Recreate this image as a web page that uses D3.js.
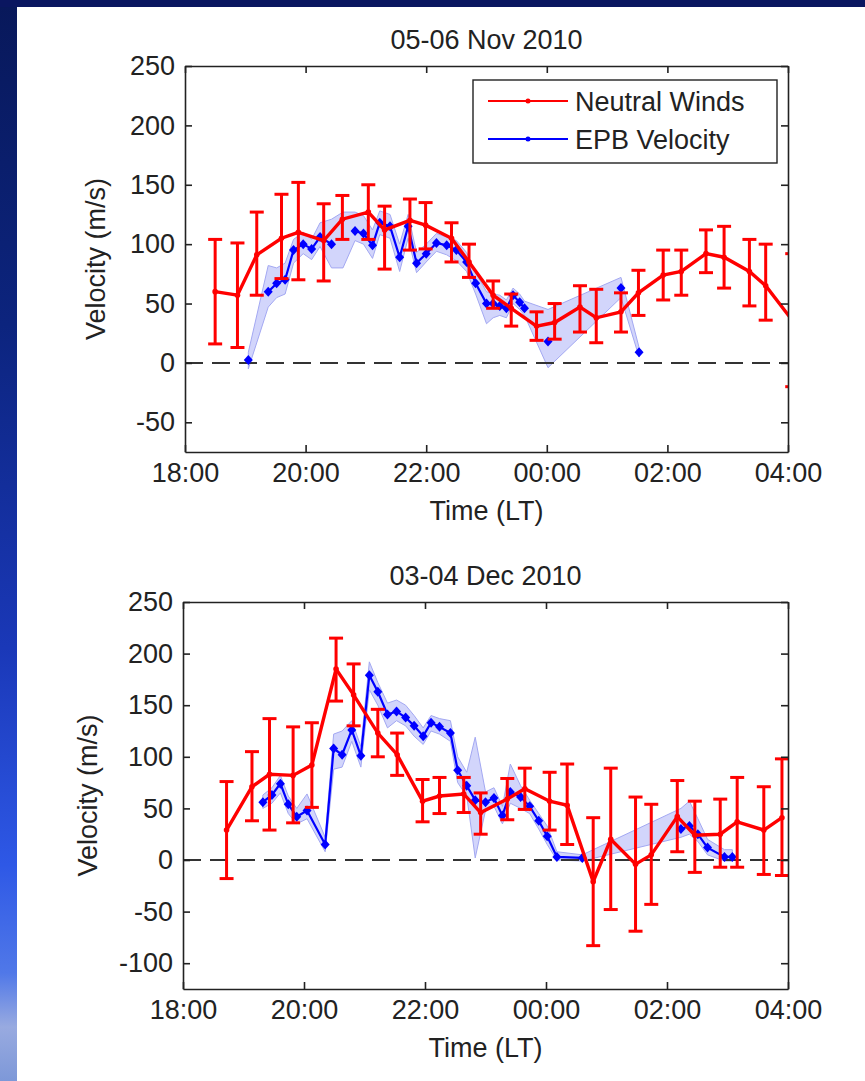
<!DOCTYPE html>
<html>
<head>
<meta charset="utf-8">
<script src="https://cdn.jsdelivr.net/npm/d3@7"></script>
<style>
  body { margin: 0; background: #fff; }
  svg { display: block; }
  text { font-family: "Liberation Sans", Arial, sans-serif; fill: #222; }
</style>
</head>
<body>
<svg width="865" height="1081"></svg>
<script>
// ---- data (hours after midnight of first day, 24 = 00:00 next day) ----
const xTickHours = [18, 20, 22, 24, 26, 28];
const xTickLabels = ['18:00', '20:00', '22:00', '00:00', '02:00', '04:00'];
const novYTicks = [-50, 0, 50, 100, 150, 200, 250];
const decYTicks = [-100, -50, 0, 50, 100, 150, 200, 250];
const seriesNames = ['Neutral Winds', 'EPB Velocity'];

// 05-06 Nov 2010, neutral winds (value, lower and upper ends of error bar)
const novNwTime = [18.50, 18.87, 19.19, 19.60, 19.88, 20.30, 20.61, 21.04, 21.31, 21.73, 21.99, 22.42, 22.71, 23.11,
  23.41, 23.83, 24.13, 24.55, 24.82, 25.23, 25.52, 25.93, 26.23, 26.64, 26.94, 27.36, 27.63, 28.07];
const novNwVel = [60, 57, 91, 105, 110, 103, 121, 127, 112, 120, 116, 105, 85, 57,
  46, 31, 34, 47, 38, 43, 59, 74, 77, 92, 89, 77, 65, 36];
const novNwLo = [16, 13, 57, 71, 70, 69, 104, 104, 79, 95, 96, 85, 72, 46,
  31, 19, 20, 26, 17, 26, 40, 53, 57, 76, 63, 48, 36, -20];
const novNwHi = [104, 101, 127, 142, 152, 134, 141, 150, 132, 138, 135, 118, 100, 69,
  58, 43, 50, 65, 62, 59, 78, 95, 95, 112, 115, 104, 100, 92];

// 05-06 Nov 2010, EPB velocity with band (null time = break in the line)
const novEpbTime = [19.05, null, 19.38, 19.52, 19.66, 19.80, 19.96, 20.10, 20.24, 20.43, 20.62, 20.82, 20.96, 21.11,
  21.23, 21.40, 21.56, 21.70, 21.84, 22.00, 22.17, 22.34, 22.50, 22.67, 22.82, 23.00, 23.11, 23.22,
  23.33, 23.44, 23.55, 23.63, null, 24.02, null, 25.23, null, 25.53];
const novEpbVel = [2.5, null, 60, 67, 70, 95, 100, 96, 106, 100, null, 111, 109, 99,
  118, 115, 89, 115, 84, 92, 101, 99, 95, 85, 67, 50, 50, 48,
  46, 57, 51, 46, null, 18, null, 63, null, 9];
const novEpbLo = [-5, null, 47, 55, 58, 84, 92, 87, 98, 80, 80, 103, 100, 88,
  108, 105, 77, 105, 76, 85, 94, 91, 86, 77, 58, 33, 38, 40,
  38, 50, 45, 40, null, -4, null, 55, null, 5];
const novEpbHi = [9, null, 82, 80, 84, 104, 110, 104, 118, 121, 127, 127, 124, 112,
  128, 125, 100, 125, 93, 100, 109, 106, 103, 93, 76, 60, 58, 57,
  53, 63, 58, 52, null, 45, null, 72, null, 13];

// 03-04 Dec 2010, neutral winds
const decNwTime = [18.72, 19.14, 19.43, 19.82, 20.13, 20.53, 20.82, 21.22, 21.54, 21.96, 22.24, 22.64, 22.92, 23.36,
  23.65, 24.06, 24.35, 24.78, 25.07, 25.48, 25.74, 26.17, 26.46, 26.88, 27.16, 27.60, 27.90];
const decNwVel = [29, 71, 83, 82, 92, 185, 160, 123, 102, 57, 62, 64, 46, 59,
  69, 57, 53, -21, 20, -4, 5, 42, 24, 25, 37, 29, 41];
const decNwLo = [-18, 38, 29, 36, 51, 154, 130, 100, 82, 37, 45, 46, 25, 39,
  49, 29, 15, -83, -48, -69, -43, 8, -12, -7, -7, -14, -15];
const decNwHi = [76, 105, 137, 129, 133, 215, 190, 146, 123, 78, 80, 80, 65, 79,
  89, 85, 93, 41, 89, 61, 54, 77, 57, 59, 80, 71, 98];

// 03-04 Dec 2010, EPB velocity with band
const decEpbTime = [19.32, 19.47, 19.61, 19.74, 19.88, 20.05, 20.35, 20.49, 20.63, 20.79, 20.94, 21.08, 21.22, 21.38,
  21.53, 21.68, 21.82, 21.97, 22.10, 22.24, 22.42, 22.54, 22.69, 22.83, 23.00, 23.14, 23.28, 23.41,
  23.58, 23.73, 23.88, 24.02, 24.18, 24.60, null, 26.23, 26.37, 26.51, 26.67, 26.95, 27.08];
const decEpbVel = [56, 63, 74, 54, 42, 48, 15, 108, 102, 126, 101, 179, 163, 141,
  144, 138, 130, 120, 133, 129, 123, 87, 72, 58, 56, 60, 43, 66,
  61, 52, 38, 23, 3, 2, null, 30, 33, 25, 12, 3, 3];
const decEpbLo = [50, 55, 65, 45, 35, 40, 8, 88, 90, 115, 90, 165, 150, 128,
  135, 130, 120, 112, 125, 122, 115, 75, 62, 2, 48, 52, 35, 55,
  50, 45, 30, 15, 0, -1, null, 22, 25, 18, 5, -1, -1];
const decEpbHi = [63, 70, 82, 62, 50, 64, 22, 122, 125, 135, 110, 192, 172, 152,
  155, 150, 140, 128, 140, 137, 135, 100, 85, 119, 66, 70, 52, 93,
  72, 58, 45, 33, 8, 5, null, 50, 57, 40, 20, 10, 10];

// ---- drawing ----
const svg = d3.select('svg');
const W = 865, H = 1081;

// slide background: navy frame on the left and top
const defs = svg.append('defs');
const grad = defs.append('linearGradient').attr('id', 'bg').attr('x1', 0).attr('y1', 0).attr('x2', 0).attr('y2', 1);
[[0, '#08185a'], [0.3, '#0c247e'], [0.6, '#1a38b8'], [0.8, '#2e58e6'], [0.9, '#5078e8'], [0.95, '#98aae0'], [1, '#7d98d8']]
  .forEach(([o, c]) => grad.append('stop').attr('offset', o).attr('stop-color', c));
svg.append('rect').attr('width', W).attr('height', H).attr('fill', 'url(#bg)');
svg.append('rect').attr('width', W).attr('height', 7).attr('fill', '#0a1660');
svg.append('rect').attr('x', 17).attr('y', 7).attr('width', W - 17).attr('height', H - 7).attr('fill', '#fff');

const diamond = 'M0,-5L4.5,0L0,5L-4.5,0Z';

function zip(t, v, lo, hi) {
  return t.map((d, i) => ({ t: d, v: v[i], lo: lo[i], hi: hi[i] }));
}

function drawPanel(p) {
  const x = d3.scaleLinear().domain([18, 28]).range([p.x0, p.x1]);
  const y = d3.scaleLinear().domain(p.yDomain).range([p.y1, p.y0]);
  const g = svg.append('g');

  const clipId = 'clip' + p.id;
  defs.append('clipPath').attr('id', clipId).append('rect')
    .attr('x', p.x0).attr('y', p.y0).attr('width', p.x1 - p.x0).attr('height', p.y1 - p.y0);
  const plot = g.append('g').attr('clip-path', `url(#${clipId})`);

  const epb = zip(p.epbTime, p.epbVel, p.epbLo, p.epbHi);
  const nw = zip(p.nwTime, p.nwVel, p.nwLo, p.nwHi);

  // EPB uncertainty band
  const bandData = epb.filter(d => d.t != null && d.lo != null);
  plot.append('path')
    .datum(bandData)
    .attr('d', d3.area().x(d => x(d.t)).y0(d => y(d.lo)).y1(d => y(d.hi)))
    .attr('fill', '#d2d5fb')
    .attr('stroke', '#a3a8f2')
    .attr('stroke-width', 1);

  // zero line
  plot.append('line')
    .attr('x1', p.x0).attr('x2', p.x1).attr('y1', y(0)).attr('y2', y(0))
    .attr('stroke', '#333').attr('stroke-width', 2).attr('stroke-dasharray', '18,9');

  // EPB line and markers
  plot.append('path')
    .datum(epb)
    .attr('d', d3.line().defined(d => d.t != null && d.v != null).x(d => x(d.t)).y(d => y(d.v)))
    .attr('fill', 'none').attr('stroke', '#0000ff').attr('stroke-width', 2.2);
  plot.selectAll('.epbm')
    .data(epb.filter(d => d.t != null && d.v != null))
    .enter().append('path')
    .attr('d', diamond)
    .attr('transform', d => `translate(${x(d.t)},${y(d.v)})`)
    .attr('fill', '#0000ff');

  // neutral winds error bars, line and markers
  const bars = plot.selectAll('.bar').data(nw).enter().append('g')
    .attr('stroke', '#ff0000').attr('stroke-width', 3);
  bars.append('line').attr('x1', d => x(d.t)).attr('x2', d => x(d.t))
    .attr('y1', d => y(d.lo)).attr('y2', d => y(d.hi));
  bars.append('line').attr('x1', d => x(d.t) - 7).attr('x2', d => x(d.t) + 7)
    .attr('y1', d => y(d.lo)).attr('y2', d => y(d.lo));
  bars.append('line').attr('x1', d => x(d.t) - 7).attr('x2', d => x(d.t) + 7)
    .attr('y1', d => y(d.hi)).attr('y2', d => y(d.hi));
  plot.append('path')
    .datum(nw)
    .attr('d', d3.line().x(d => x(d.t)).y(d => y(d.v)))
    .attr('fill', 'none').attr('stroke', '#ff0000').attr('stroke-width', 3.4);
  plot.selectAll('.nwm').data(nw).enter().append('circle')
    .attr('cx', d => x(d.t)).attr('cy', d => y(d.v)).attr('r', 2.8)
    .attr('fill', '#ff0000');

  // axes, ticks pointing inward on all four sides; plain hyphen for negatives
  const fs = '27px';
  const left = g.append('g').attr('transform', `translate(${p.x0},0)`)
    .call(d3.axisLeft(y).tickValues(p.yTicks).tickFormat(d => String(d))
      .tickSizeInner(-7).tickSizeOuter(0).tickPadding(10));
  const bottom = g.append('g').attr('transform', `translate(0,${p.y1})`)
    .call(d3.axisBottom(x).tickValues(xTickHours).tickFormat((d, i) => xTickLabels[i])
      .tickSizeInner(-7).tickSizeOuter(0).tickPadding(10));
  const right = g.append('g').attr('transform', `translate(${p.x1},0)`)
    .call(d3.axisRight(y).tickValues(p.yTicks).tickSizeInner(-7).tickSizeOuter(0).tickFormat(''));
  const top = g.append('g').attr('transform', `translate(0,${p.y0})`)
    .call(d3.axisTop(x).tickValues(xTickHours).tickSizeInner(-7).tickSizeOuter(0).tickFormat(''));
  [left, bottom, right, top].forEach(a => {
    a.selectAll('path, line').attr('stroke', '#222').attr('stroke-width', 1.6);
    a.selectAll('text').style('font-size', fs).attr('fill', '#222');
  });
  bottom.selectAll('text').attr('dy', '0.75em');

  // titles
  g.append('text').attr('x', (p.x0 + p.x1) / 2).attr('y', p.y0 - 17)
    .attr('text-anchor', 'middle').style('font-size', fs).text(p.title);
  g.append('text').attr('x', (p.x0 + p.x1) / 2).attr('y', p.y1 + 68)
    .attr('text-anchor', 'middle').style('font-size', fs).text('Time (LT)');
  g.append('text')
    .attr('transform', `translate(${p.ylabX},${(p.y0 + p.y1) / 2}) rotate(-90)`)
    .attr('text-anchor', 'middle').attr('dy', '0.35em').style('font-size', fs).text('Velocity (m/s)');

  if (p.legend) {
    const lg = g.append('g').attr('transform', 'translate(473,80)');
    lg.append('rect').attr('width', 304).attr('height', 83).attr('fill', '#fff')
      .attr('stroke', '#222').attr('stroke-width', 1.4);
    const colors = ['#ff0000', '#0000ff'];
    seriesNames.forEach((name, i) => {
      const yy = 21 + i * 38;
      lg.append('line').attr('x1', 15).attr('x2', 95).attr('y1', yy).attr('y2', yy)
        .attr('stroke', colors[i]).attr('stroke-width', 2);
      lg.append('circle').attr('cx', 55).attr('cy', yy).attr('r', 2.5).attr('fill', colors[i]);
      lg.append('text').attr('x', 102).attr('y', yy).attr('dy', '0.36em')
        .style('font-size', fs).text(name);
    });
  }
}

drawPanel({
  id: 'nov', title: '05-06 Nov 2010', x0: 185, x1: 788, y0: 66, y1: 452,
  yDomain: [-75, 250], yTicks: novYTicks, ylabX: 96, legend: true,
  nwTime: novNwTime, nwVel: novNwVel, nwLo: novNwLo, nwHi: novNwHi,
  epbTime: novEpbTime, epbVel: novEpbVel, epbLo: novEpbLo, epbHi: novEpbHi
});

drawPanel({
  id: 'dec', title: '03-04 Dec 2010', x0: 183, x1: 788, y0: 602, y1: 989,
  yDomain: [-125, 250], yTicks: decYTicks, ylabX: 88, legend: false,
  nwTime: decNwTime, nwVel: decNwVel, nwLo: decNwLo, nwHi: decNwHi,
  epbTime: decEpbTime, epbVel: decEpbVel, epbLo: decEpbLo, epbHi: decEpbHi
});
</script>
</body>
</html>
